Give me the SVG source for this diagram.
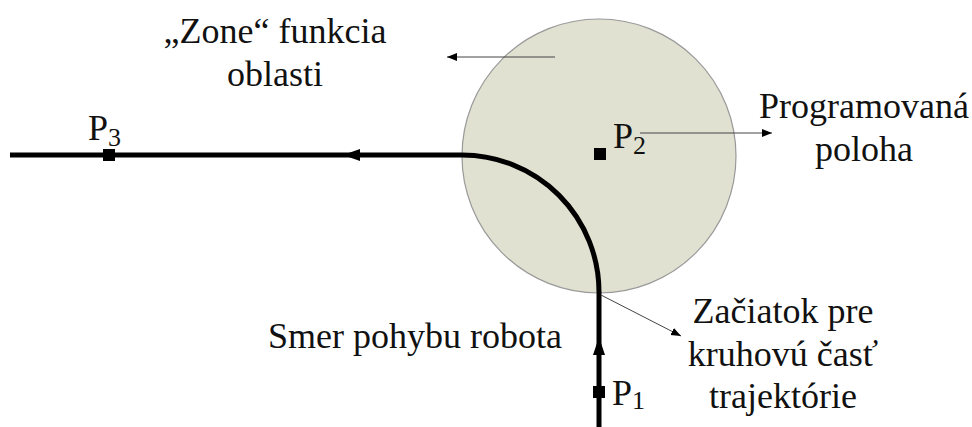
<svg xmlns="http://www.w3.org/2000/svg" width="972" height="427" viewBox="0 0 972 427">
<defs>
<style>
.thin{stroke:#444;stroke-width:1;fill:none;}
.path{stroke:#000;stroke-width:5;fill:none;}
</style>
<marker id="ah" viewBox="0 0 10 10" refX="10" refY="5" markerWidth="10" markerHeight="10" markerUnits="userSpaceOnUse" orient="auto"><path d="M0,1 L10,5 L0,9 Z" fill="#000"/></marker>
</defs>
<g id="zone">
<circle cx="599" cy="156" r="137" fill="#e0e1d0" stroke="#999" stroke-width="1.2"/>
</g>
<g id="connectors">
<path class="path" d="M10,155 L462,155 A137,137 0 0 1 599,292 L599,427"/>
<path d="M343,155 L360,149 L360,161 Z" fill="#000"/>
<path d="M599,337 L593,355 L605,355 Z" fill="#000"/>
<line class="thin" x1="555" y1="57" x2="447" y2="57" marker-end="url(#ah)"/>
<line class="thin" x1="640" y1="133" x2="772" y2="133" marker-end="url(#ah)"/>
<line class="thin" x1="601" y1="295" x2="681" y2="336" marker-end="url(#ah)"/>
</g>
<g id="p3"><rect x="103" y="149" width="12" height="12" fill="#000"/><text font-family="Liberation Serif, Times New Roman, serif" font-size="36" fill="#111" x="88" y="140">P<tspan font-size="26" dy="6">3</tspan></text></g>
<g id="p2"><rect x="594" y="148" width="12" height="12" fill="#000"/><text font-family="Liberation Serif, Times New Roman, serif" font-size="36" fill="#111" x="613" y="148">P<tspan font-size="26" dy="6">2</tspan></text></g>
<g id="p1"><rect x="593" y="386" width="12" height="12" fill="#000"/><text font-family="Liberation Serif, Times New Roman, serif" font-size="36" fill="#111" x="612" y="405">P<tspan font-size="26" dy="4">1</tspan></text></g>
<g id="label-zone"><text font-family="Liberation Serif, Times New Roman, serif" font-size="36" fill="#111" text-anchor="middle" x="275" y="43">„Zone“ funkcia</text><text font-family="Liberation Serif, Times New Roman, serif" font-size="36" fill="#111" text-anchor="middle" x="275" y="86">oblasti</text></g>
<g id="label-prog"><text font-family="Liberation Serif, Times New Roman, serif" font-size="36" fill="#111" text-anchor="middle" x="864" y="118">Programovaná</text><text font-family="Liberation Serif, Times New Roman, serif" font-size="36" fill="#111" text-anchor="middle" x="864" y="161">poloha</text></g>
<g id="label-smer"><text font-family="Liberation Serif, Times New Roman, serif" font-size="36" fill="#111" x="268" y="348">Smer pohybu robota</text></g>
<g id="label-zac"><text font-family="Liberation Serif, Times New Roman, serif" font-size="36" fill="#111" text-anchor="middle" x="783" y="323">Začiatok pre</text><text font-family="Liberation Serif, Times New Roman, serif" font-size="36" fill="#111" text-anchor="middle" x="783" y="366">kruhovú časť</text><text font-family="Liberation Serif, Times New Roman, serif" font-size="36" fill="#111" text-anchor="middle" x="783" y="408">trajektórie</text></g>
</svg>
